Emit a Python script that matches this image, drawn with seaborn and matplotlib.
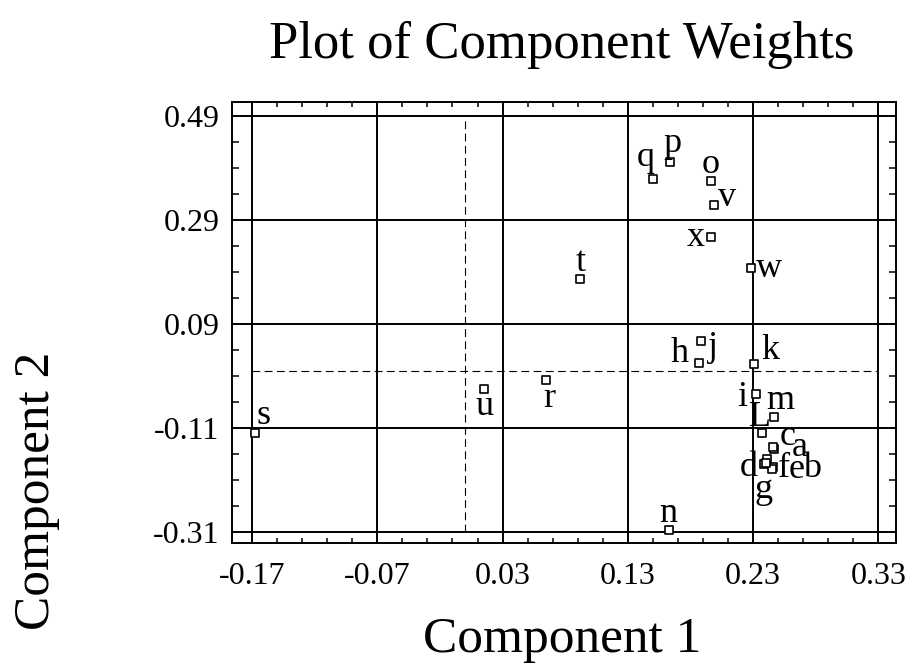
import numpy as np
import pandas as pd
import matplotlib
matplotlib.use("Agg")
import matplotlib.pyplot as plt
import seaborn as sns

# valores
labels = ["a", "b", "c", "d", "e", "f", "g", "h", "i", "j", "k", "L",
          "m", "n", "o", "p", "q", "r", "s", "t", "u", "v", "w", "x"]
comp1 = [0.247, 0.246, 0.246, 0.239, 0.241, 0.245, 0.240, 0.187, 0.232, 0.188, 0.231, 0.237,
         0.247, 0.163, 0.196, 0.164, 0.150, 0.065, -0.168, 0.092, 0.015, 0.199, 0.228, 0.196]
comp2 = [-0.150, -0.184, -0.146, -0.179, -0.170, -0.188, -0.177, 0.015, -0.044, 0.058, 0.014, -0.120,
         -0.088, -0.306, 0.365, 0.401, 0.368, -0.017, -0.120, 0.177, -0.035, 0.319, 0.197, 0.257]

x_ticks = [-0.17, -0.07, 0.03, 0.13, 0.23, 0.33]
y_ticks = [-0.31, -0.11, 0.09, 0.29, 0.49]

# deslocamento dos rótulos (pixels: direita, cima)
LABEL_OFFSET = {
    "a": (25, 1), "b": (39, -2), "c": (14, 10), "d": (-16, -4), "e": (30, -10),
    "f": (12, 0), "g": (-2, -27), "h": (-20, 10), "i": (-13, -4), "j": (13, -7),
    "k": (16, 13), "L": (-2, 16), "m": (6, 16), "n": (-1, 16), "o": (0, 17),
    "p": (2, 19), "q": (-7, 22), "r": (3, -19), "s": (9, 18), "t": (0, 16),
    "u": (1, -17), "v": (13, 7), "w": (18, 0), "x": (-15, 0),
}

sns.set_style("white")
plt.rcParams["font.family"] = ["Liberation Serif", "DejaVu Serif"]
plt.rcParams["axes.unicode_minus"] = False
plt.rcParams["text.color"] = "black"
plt.rcParams["axes.labelcolor"] = "black"
plt.rcParams["xtick.color"] = "black"
plt.rcParams["ytick.color"] = "black"

df = pd.DataFrame({"label": labels, "Component 1": comp1, "Component 2": comp2})

fig = plt.figure(figsize=(9.08, 6.66), dpi=100)
ax = fig.add_axes([232 / 908, 1 - 543 / 666, 664 / 908, 441 / 666])

sns.scatterplot(data=df, x="Component 1", y="Component 2", ax=ax,
                marker="s", s=36, color="white", edgecolor="black",
                linewidth=1.2, zorder=4, legend=False)

for _, row in df.iterrows():
    dx, dy = LABEL_OFFSET[row["label"]]
    ax.annotate(row["label"], (row["Component 1"], row["Component 2"]),
                xytext=(dx, dy), textcoords="offset pixels",
                ha="center", va="center", fontsize=26, color="black", zorder=5)

# linhas tracejadas em zero
ax.vlines(0, y_ticks[0], y_ticks[-1], colors="black", lw=0.8, linestyles=(0, (7, 4)), zorder=2)
ax.hlines(0, x_ticks[0], x_ticks[-1], colors="black", lw=0.8, linestyles=(0, (7, 4)), zorder=2)

ax.set_xlim(-0.186, 0.344)
ax.set_ylim(-0.331, 0.517)
ax.set_xticks(x_ticks)
ax.set_yticks(y_ticks)
ax.set_xticklabels([f"{v:.2f}" for v in x_ticks])
ax.set_yticklabels([f"{v:.2f}" for v in y_ticks])

x_minor = [v for v in np.arange(-0.17, 0.33, 0.02) if min(abs(v - t) for t in x_ticks) > 1e-6]
y_minor = [v for v in np.arange(-0.31, 0.49, 0.05) if min(abs(v - t) for t in y_ticks) > 1e-6]
ax.set_xticks(x_minor, minor=True)
ax.set_yticks(y_minor, minor=True)

ax.grid(True, which="major", color="black", lw=1.4, zorder=1)
ax.set_axisbelow(True)
for sp in ax.spines.values():
    sp.set_color("black")
    sp.set_linewidth(1.4)

ax.tick_params(which="major", length=0, labelsize=23, labelcolor="black")
ax.tick_params(axis="x", which="major", pad=14)
ax.tick_params(axis="y", which="major", pad=9)
ax.tick_params(which="minor", direction="in", top=True, right=True, bottom=True, left=True,
               width=1.1, color="black")
ax.tick_params(axis="x", which="minor", length=3.3)
ax.tick_params(axis="y", which="minor", length=5)

ax.set_xlabel("Component 1", fontsize=37, color="black")
ax.set_ylabel("Component 2", fontsize=37, color="black")
ax.xaxis.set_label_coords(562 / 908, 1 - 652 / 666, transform=fig.transFigure)
ax.xaxis.label.set_va("baseline")
ax.yaxis.set_label_coords(37 / 908, 1 - 491 / 666, transform=fig.transFigure)
ax.yaxis.label.set_va("center")

fig.text(562 / 908, 1 - 58 / 666, "Plot of Component Weights", fontsize=38,
         ha="center", va="baseline", color="black")

fig.savefig("out.png", dpi=100)
